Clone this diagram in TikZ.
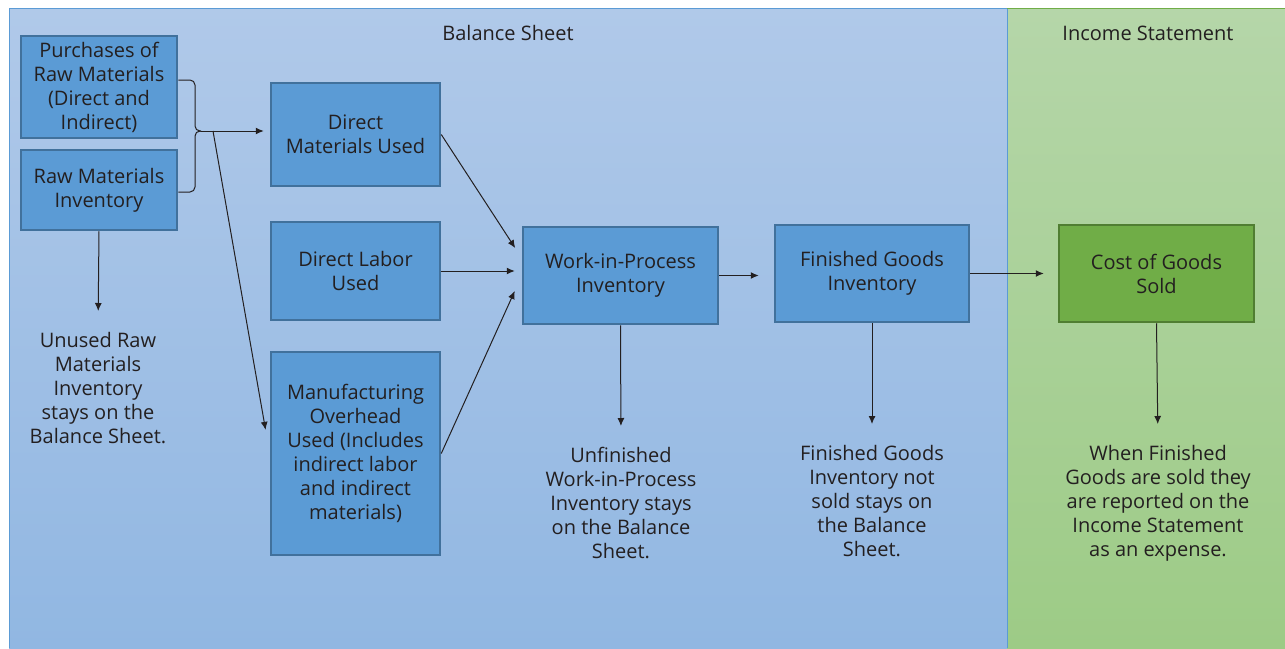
\documentclass[tikz,border=0pt]{standalone}
\usepackage{fontspec}
\setmainfont{Open Sans}
\usetikzlibrary{positioning,arrows.meta,calc}
\definecolor{boxblue}{HTML}{5B9BD5}
\definecolor{boxblueline}{HTML}{41719C}
\definecolor{boxgreen}{HTML}{70AD47}
\definecolor{boxgreenline}{HTML}{507E32}
\definecolor{inktext}{HTML}{231F20}
\definecolor{sheettop}{RGB}{176,201,233}
\definecolor{sheetbot}{RGB}{145,183,226}
\definecolor{sheetline}{HTML}{5B9BD5}
\definecolor{incometop}{RGB}{181,214,169}
\definecolor{incomebot}{RGB}{157,203,134}
\tikzset{
  block/.style={
    draw=boxblueline, fill=boxblue, line width=2.5pt,
    inner sep=0pt, align=center, text=inktext,
    font=\fontsize{20}{24}\selectfont
  },
  endblock/.style={
    block, draw=boxgreenline, fill=boxgreen
  },
  note/.style={
    inner sep=0pt, align=center, text=inktext, anchor=north,
    font=\fontsize{20}{24}\selectfont
  },
  panellabel/.style={
    inner sep=0pt, text=inktext, font=\fontsize{20}{24}\selectfont
  },
  link/.style={draw=inktext, line width=1pt},
  arrow/.style={link, -{Latex[length=8pt,width=7pt]}, shorten >=6pt}
}

\begin{document}
\begin{tikzpicture}[x=1pt, y=-1pt]
  \useasboundingbox (0,0) rectangle (1285,648);

  % the two statement panels
  \shade[top color=sheettop, bottom color=sheetbot] (9,8) rectangle (1007,648);
  \shade[top color=incometop, bottom color=incomebot] (1007,8) rectangle (1285,648);
  \draw[sheetline, line width=1pt] (9,648) -- (9,8) -- (1007,8) -- (1007,648);
  \draw[boxgreen, line width=1pt] (1007,8) -- (1285,8);

  \node[panellabel] (bs) at (508,33) {Balance Sheet};
  \node[panellabel] (is) at (1148,33) {Income Statement};

  \node[block, minimum width=156pt, minimum height=102pt] (purch) at (99,87)
    {Purchases of\\Raw Materials\\(Direct and\\Indirect)};
  \node[block, minimum width=156pt, minimum height=80pt] (rawinv) at (99,190)
    {Raw Materials\\Inventory};

  \node[block, minimum width=169pt, minimum height=103pt] (dmu) at (355.5,134.5)
    {Direct\\Materials Used};
  \node[block, minimum width=169pt, minimum height=98pt] (dlu) at (355.5,271)
    {Direct Labor\\Used};
  \node[block, minimum width=169pt, minimum height=203pt] (moh) at (355.5,453.5)
    {Manufacturing\\Overhead\\Used (Includes\\indirect labor\\and indirect\\materials)};

  \node[block, minimum width=195pt, minimum height=97pt] (wip) at (620.5,275.5)
    {Work-in-Process\\Inventory};
  \node[block, minimum width=194pt, minimum height=97pt] (fgi) at (872,273.5)
    {Finished Goods\\Inventory};
  \node[endblock, minimum width=195pt, minimum height=97pt] (cogs) at (1156.5,273.5)
    {Cost of Goods\\Sold};

  \node[note] (unused) at (98,332)
    {Unused Raw\\Materials\\Inventory\\stays on the\\Balance Sheet.};
  \node[note] (unfin) at (621,447)
    {Unfinished\\Work-in-Process\\Inventory stays\\on the Balance\\Sheet.};
  \node[note] (unsold) at (872,445)
    {Finished Goods\\Inventory not\\sold stays on\\the Balance\\Sheet.};
  \node[note] (sold) at (1158,445)
    {When Finished\\Goods are sold they\\are reported on the\\Income Statement\\as an expense.};

  % brace joining the two raw material boxes
  \coordinate (tip) at (201,131);
  \coordinate (split) at (213,131);
  \draw[link, rounded corners=5pt] (purch.east |- 0,80) -- (195,80) -- (195,131) -- (tip);
  \draw[link, rounded corners=5pt] (rawinv.east |- 0,192) -- (195,192) -- (195,131) -- (tip);

  \draw[arrow] (tip) -- (tip -| dmu.west);
  \draw[arrow, shorten >=24pt] (split) -- (moh.west);

  \draw[arrow, shorten >=12pt] (dmu.east) -- (wip.170);
  \draw[arrow, shorten >=7pt] (dlu.east) -- (dlu.east -| wip.west);
  \draw[arrow, shorten >=17pt] (moh.east) -- (wip.west);
  \draw[arrow, shorten >=15pt] (wip.east) -- (wip.east -| fgi.west);
  \draw[arrow, shorten >=14pt] (fgi.east) -- (fgi.east -| cogs.west);

  \draw[arrow, shorten >=21pt] (rawinv.south) -- (unused.north);
  \draw[arrow, shorten >=21pt] (wip.south) -- (unfin.north);
  \draw[arrow, shorten >=21pt] (fgi.south) -- (unsold.north);
  \draw[arrow, shorten >=21pt] (cogs.south) -- (sold.north);
\end{tikzpicture}
\end{document}
